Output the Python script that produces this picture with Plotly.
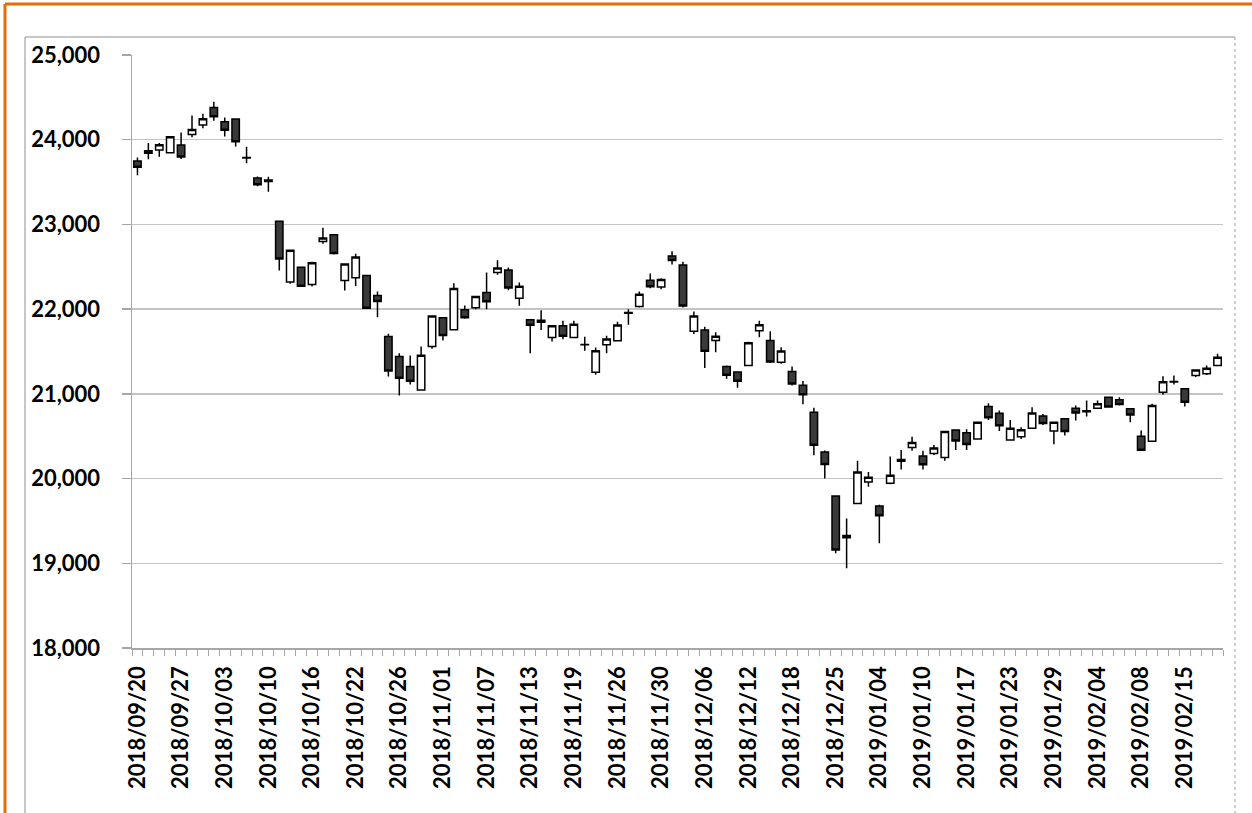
import plotly.graph_objects as go

# Trading days (Nikkei 225 daily candles)
dates = [
    "2018/09/20", "2018/09/21", "2018/09/25", "2018/09/26", "2018/09/27", "2018/09/28",
    "2018/10/01", "2018/10/02", "2018/10/03", "2018/10/04", "2018/10/05", "2018/10/09",
    "2018/10/10", "2018/10/11", "2018/10/12", "2018/10/15", "2018/10/16", "2018/10/17",
    "2018/10/18", "2018/10/19", "2018/10/22", "2018/10/23", "2018/10/24", "2018/10/25",
    "2018/10/26", "2018/10/29", "2018/10/30", "2018/10/31", "2018/11/01", "2018/11/02",
    "2018/11/05", "2018/11/06", "2018/11/07", "2018/11/08", "2018/11/09", "2018/11/12",
    "2018/11/13", "2018/11/14", "2018/11/15", "2018/11/16", "2018/11/19", "2018/11/20",
    "2018/11/21", "2018/11/22", "2018/11/26", "2018/11/27", "2018/11/28", "2018/11/29",
    "2018/11/30", "2018/12/03", "2018/12/04", "2018/12/05", "2018/12/06", "2018/12/07",
    "2018/12/10", "2018/12/11", "2018/12/12", "2018/12/13", "2018/12/14", "2018/12/17",
    "2018/12/18", "2018/12/19", "2018/12/20", "2018/12/21", "2018/12/25", "2018/12/26",
    "2018/12/27", "2018/12/28", "2019/01/04", "2019/01/07", "2019/01/08", "2019/01/09",
    "2019/01/10", "2019/01/11", "2019/01/15", "2019/01/16", "2019/01/17", "2019/01/18",
    "2019/01/21", "2019/01/22", "2019/01/23", "2019/01/24", "2019/01/25", "2019/01/28",
    "2019/01/29", "2019/01/30", "2019/01/31", "2019/02/01", "2019/02/04", "2019/02/05",
    "2019/02/06", "2019/02/07", "2019/02/08", "2019/02/12", "2019/02/13", "2019/02/14",
    "2019/02/15", "2019/02/18", "2019/02/19", "2019/02/20",
]

opens = [
    23750, 23840, 23880, 23845, 23937, 24063, 24173, 24381, 24212, 24244,
    23790, 23548, 23525, 23037, 22319, 22495, 22291, 22799, 22878, 22339,
    22370, 22398, 22161, 21677, 21441, 21323, 21047, 21559, 21898, 21756,
    21992, 22016, 22196, 22432, 22463, 22130, 21874, 21870, 21666, 21804,
    21666, 21580, 21254, 21580, 21627, 21960, 22031, 22342, 22262, 22626,
    22520, 21738, 21754, 21629, 21324, 21257, 21335, 21746, 21629, 21374,
    21265, 21101, 20784, 20314, 19793, 19302, 19706, 19961, 19675, 19945,
    20224, 20366, 20265, 20297, 20250, 20573, 20542, 20467, 20850, 20771,
    20455, 20494, 20593, 20739, 20562, 20705, 20831, 20800, 20831, 20961,
    20929, 20823, 20501, 20442, 21019, 21145, 21059, 21216, 21236, 21334,
]

highs = [
    23790, 23960, 23960, 24040, 24086, 24286, 24306, 24448, 24263, 24250,
    23917, 23565, 23564, 23040, 22700, 22500, 22560, 22961, 22885, 22543,
    22654, 22400, 22209, 21709, 21480, 21453, 21559, 21925, 21900, 22307,
    22043, 22150, 22432, 22577, 22491, 22314, 21880, 21988, 21810, 21863,
    21863, 21674, 21548, 21686, 21851, 22000, 22208, 22420, 22365, 22684,
    22559, 21973, 21793, 21726, 21335, 21265, 21615, 21863, 21738, 21550,
    21324, 21152, 20835, 20330, 19800, 19530, 20211, 20079, 19690, 20260,
    20336, 20494, 20329, 20396, 20565, 20580, 20581, 20675, 20889, 20803,
    20692, 20605, 20842, 20763, 20672, 20710, 20862, 20921, 20921, 20965,
    20961, 20830, 20568, 20882, 21208, 21216, 21065, 21290, 21334, 21472,
]

lows = [
    23580, 23770, 23800, 23840, 23772, 24030, 24134, 24224, 24039, 23921,
    23721, 23450, 23387, 22456, 22300, 22267, 22268, 22772, 22646, 22220,
    22272, 22004, 21905, 21205, 20980, 21110, 21040, 21531, 21630, 21750,
    21886, 22000, 22000, 22405, 22224, 22039, 21478, 21753, 21619, 21646,
    21660, 21509, 21226, 21478, 21620, 21815, 22020, 22247, 22235, 22528,
    22020, 21707, 21304, 21492, 21179, 21073, 21330, 21668, 21363, 21355,
    21100, 20878, 20275, 20000, 19118, 18942, 19700, 19902, 19236, 19934,
    20107, 20329, 20107, 20277, 20210, 20336, 20336, 20460, 20692, 20562,
    20450, 20467, 20590, 20633, 20405, 20509, 20686, 20733, 20825, 20840,
    20862, 20666, 20324, 20440, 20988, 21110, 20851, 21200, 21224, 21330,
]

closes = [
    23675, 23870, 23940, 24034, 23797, 24120, 24246, 24271, 24111, 23976,
    23784, 23469, 23506, 22591, 22695, 22271, 22549, 22841, 22658, 22532,
    22615, 22011, 22091, 21269, 21185, 21150, 21457, 21920, 21688, 22244,
    21899, 22148, 22086, 22487, 22250, 22270, 21811, 21846, 21804, 21680,
    21821, 21583, 21508, 21647, 21812, 21952, 22177, 22263, 22351, 22575,
    22036, 21919, 21502, 21679, 21220, 21148, 21603, 21816, 21375, 21507,
    21115, 20988, 20393, 20166, 19156, 19327, 20078, 20015, 19562, 20039,
    20204, 20427, 20164, 20360, 20555, 20443, 20402, 20666, 20719, 20623,
    20594, 20575, 20774, 20649, 20665, 20557, 20773, 20788, 20884, 20844,
    20874, 20751, 20333, 20864, 21144, 21140, 20901, 21282, 21303, 21431,
]

label_step = 4
tick_labels = dates[::label_step]

y_min, y_max, y_step = 18000, 25000, 1000

x = list(range(len(dates)))

fig = go.Figure(
    go.Candlestick(
        x=x,
        open=opens,
        high=highs,
        low=lows,
        close=closes,
        increasing=dict(line=dict(color="black", width=1.5), fillcolor="white"),
        decreasing=dict(line=dict(color="black", width=1.5), fillcolor="#3a3a3a"),
        whiskerwidth=0,
        showlegend=False,
        hoverinfo="skip",
    )
)

axis_grey = "#a6a6a6"
tick_font = dict(family="Lato, Open Sans, sans-serif", size=22, color="black", weight="bold")

fig.update_layout(
    width=1252,
    height=813,
    autosize=False,
    margin=dict(l=132, r=29, t=55, b=165, pad=0),
    paper_bgcolor="white",
    plot_bgcolor="white",
    boxgap=0.32,
    boxgroupgap=0,
    showlegend=False,
    xaxis=dict(
        range=[-0.5, len(dates) - 0.5],
        tickmode="array",
        tickvals=x[::label_step],
        ticktext=tick_labels,
        tickangle=-90,
        ticks="",
        tickfont=tick_font,
        ticklabelstandoff=8,
        showgrid=False,
        zeroline=False,
        showline=True,
        linecolor=axis_grey,
        linewidth=1.5,
        rangeslider=dict(visible=False),
        minor=dict(
            tickmode="linear",
            tick0=-0.5,
            dtick=1,
            ticks="outside",
            ticklen=6,
            tickwidth=1,
            tickcolor=axis_grey,
            showgrid=False,
        ),
        fixedrange=True,
    ),
    yaxis=dict(
        range=[y_min, y_max],
        tickmode="linear",
        tick0=y_min,
        dtick=y_step,
        tickformat=",d",
        ticks="outside",
        ticklen=9,
        tickwidth=1.5,
        tickcolor=axis_grey,
        tickfont=tick_font,
        ticklabelstandoff=17,
        showgrid=True,
        gridcolor="#c4c4c4",
        gridwidth=1.5,
        zeroline=False,
        showline=True,
        linecolor=axis_grey,
        linewidth=1.5,
        fixedrange=True,
    ),
)

# Decorative frames: outer grey chart-area border (open at bottom) and orange page border
plot_w_px = 1252 - 132 - 29
plot_h_px = 813 - 55 - 165


def px_x(px):
    return (px - 132) / plot_w_px


def px_y(py):
    return (813 - 165 - py) / plot_h_px


frame_grey = "#b5b5b5"
fig.add_shape(
    type="line", xref="paper", yref="paper",
    x0=px_x(25), x1=px_x(1235), y0=px_y(37), y1=px_y(37),
    line=dict(color=frame_grey, width=1.5), layer="below",
)
fig.add_shape(
    type="line", xref="paper", yref="paper",
    x0=px_x(25), x1=px_x(25), y0=px_y(37), y1=px_y(813),
    line=dict(color=frame_grey, width=1.5), layer="below",
)
fig.add_shape(
    type="line", xref="paper", yref="paper",
    x0=px_x(1235), x1=px_x(1235), y0=px_y(37), y1=px_y(813),
    line=dict(color="#c0c0c0", width=1.5, dash="dot"), layer="below",
)
fig.add_shape(
    type="line", xref="paper", yref="paper",
    x0=px_x(5), x1=px_x(1252), y0=px_y(4), y1=px_y(4),
    line=dict(color="#e46c0a", width=3),
)
fig.add_shape(
    type="line", xref="paper", yref="paper",
    x0=px_x(5), x1=px_x(5), y0=px_y(4), y1=px_y(813),
    line=dict(color="#e46c0a", width=3),
)

fig.write_html(
    "out.html",
    config={"displayModeBar": False, "staticPlot": True},
    post_script="document.body.style.margin='0';document.body.style.overflow='hidden';",
)
